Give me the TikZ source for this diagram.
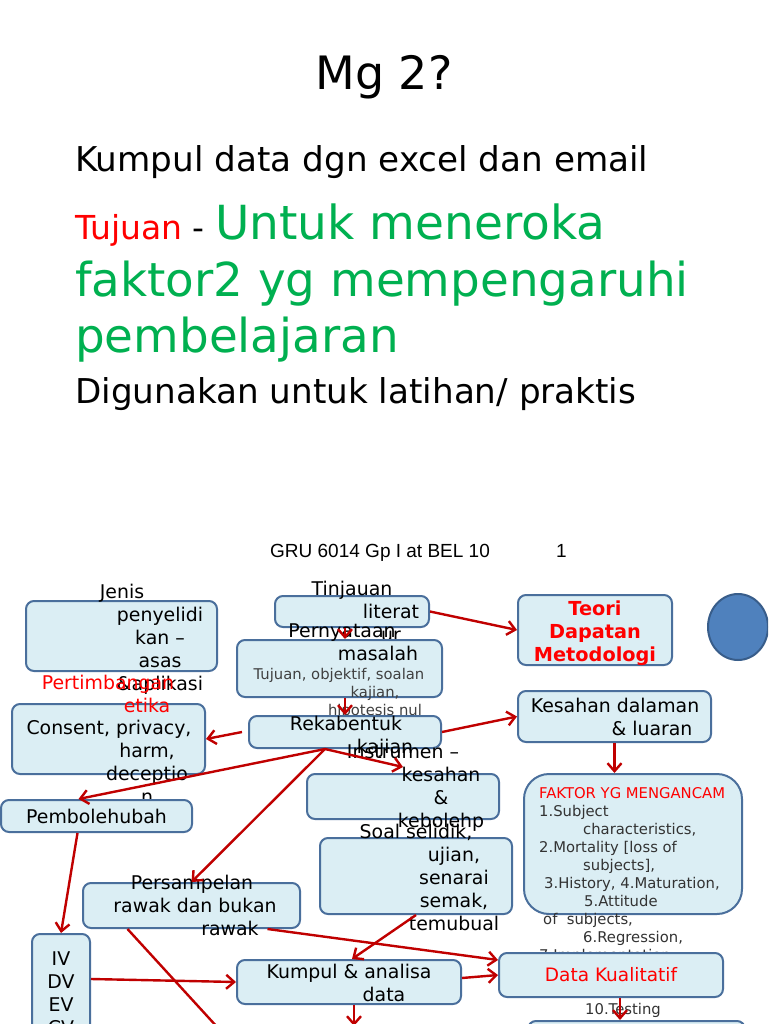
\documentclass[tikz,border=0pt]{standalone}
\usepackage{fontspec}
\setmainfont{DejaVu Sans}
\newfontfamily\arialfont{Liberation Sans}
\usetikzlibrary{arrows.meta}

\definecolor{boxfill}{HTML}{DBEEF4}
\definecolor{boxline}{HTML}{4A6F9C}
\definecolor{arrowred}{HTML}{C00000}
\definecolor{aimgreen}{HTML}{00B050}
\definecolor{ovalblue}{HTML}{4F81BD}
\definecolor{ovalline}{HTML}{385D8A}

\newcommand\boxfont{\fontsize{18.9}{23}\selectfont}
\newcommand\smallfont{\fontsize{14.8}{18}\selectfont}

\tikzset{
  box/.style={draw=boxline, fill=boxfill, line width=2pt, rounded corners=8pt, inner sep=0pt},
  wh/.style 2 args={minimum width=#1, minimum height=#2},
  txt/.style={inner sep=0pt, align=center, font=\boxfont, anchor=north},
  conn/.style={draw=arrowred, line width=2.4pt, ->},
}

\begin{document}
\begin{tikzpicture}[x=1pt, y=-1pt, >={Straight Barb[length=8pt,width=14pt]}]
\useasboundingbox (0,0) rectangle (768,1024);
\fill[white] (0,0) rectangle (768,1024);
\clip (0,0) rectangle (768,1024);

% heading
\node[inner sep=0pt, anchor=base, font=\fontsize{46}{55}\selectfont] (title) at (384,90) {Mg 2?};
\node[inner sep=0pt, anchor=base west, font=\fontsize{34.2}{40}\selectfont] (kumpuldata) at (75,172) {Kumpul data dgn excel dan email};
\node[inner sep=0pt, anchor=base west] (tujuan) at (75,240)
  {\fontsize{33}{38}\selectfont\textcolor{red}{Tujuan} - \textcolor{aimgreen}{\fontsize{47}{56}\selectfont Untuk meneroka}};
\node[inner sep=0pt, anchor=base west, text=aimgreen, font=\fontsize{46.8}{56}\selectfont] (faktordua) at (75,296) {faktor2 yg mempengaruhi};
\node[inner sep=0pt, anchor=base west, text=aimgreen, font=\fontsize{46.8}{56}\selectfont] (pembelajaran) at (75,352) {pembelajaran};
\node[inner sep=0pt, anchor=base west, font=\fontsize{34.2}{40}\selectfont] (digunakan) at (75,403) {Digunakan untuk latihan/ praktis};
\node[inner sep=0pt, anchor=base west, font=\arialfont\fontsize{19}{23}\selectfont] (gru) at (270,557) {GRU 6014 Gp I at BEL 10};
\node[inner sep=0pt, anchor=base west, font=\arialfont\fontsize{19}{23}\selectfont] (pagenum) at (556,557) {1};

% boxes, back to front
\node[box, wh={191}{70}] (jenis) at (121.5,636) {};
\node[txt] (jenis-t) at (160,581.9) {\strut\hspace*{-76pt}Jenis\\penyelidi\\kan –\\asas\\\&aplikasi};

\node[box, wh={154}{31}] (tinj) at (352,611.5) {};
\node[txt] (tinj-t) at (391,578.9) {\strut\hspace*{-78pt}Tinjauan\\literat\\ur};

\node[box, wh={205}{57}] (pern) at (339.5,668.5) {};
\node[txt] (pern-t) at (378,620.9) {\strut\hspace*{-72pt}Pernyataan\\masalah};
\node[txt, font=\smallfont, text=black!75] (pern-s) at (375,666.4) {\strut\hspace*{-72pt}Tujuan, objektif, soalan\\kajian,\\hipotesis nul};

\node[box, wh={154}{70}] (teori) at (595,630) {};
\node[txt, font=\fontsize{19.3}{23}\selectfont\bfseries, text=red] (teori-t) at (595,598.9) {\strut Teori\\Dapatan\\Metodologi};

\draw[fill=ovalblue, draw=ovalline, line width=2pt] (738,627) ellipse [x radius=30, y radius=33];

\node[box, wh={193}{51}] (kesahan) at (614.5,716.5) {};
\node[txt] (kesahan-t) at (652,695.9) {\strut\hspace*{-74pt}Kesahan dalaman\\\& luaran};

\node[box, wh={193}{70}] (consent) at (108.5,739) {};
\node[txt] (consent-t) at (147,717.9) {\strut\hspace*{-76pt}Consent, privacy,\\harm,\\deceptio\\n};
\node[txt, text=red] (pertim-t) at (147,672.9) {\strut\hspace*{-78pt}Pertimbangan\\etika};

\node[box, wh={192}{32}] (rekab) at (345,732) {};
\node[txt] (rekab-t) at (385,713.9) {\strut\hspace*{-78pt}Rekabentuk\\kajian};

\node[box, wh={192}{45}] (instr) at (403,796.5) {};
\node[txt] (instr-t) at (441,741.9) {\strut\hspace*{-76pt}Instrumen –\\kesahan\\\&\\kebolehp};

\node[box, wh={191}{32}, font=\boxfont] (pemb) at (96.5,816) {Pembolehubah};

\node[box, wh={192}{76}] (soal) at (416,876) {};
\node[txt] (soal-t) at (454,821.9) {\strut\hspace*{-76pt}Soal selidik,\\ujian,\\senarai\\semak,\\temubual};

\node[box, wh={218}{140}, rounded corners=25pt] (faktor) at (633,844) {};
\node[inner sep=0pt, anchor=north west, align=left, font=\smallfont, text=black!80] (faktor-t) at (539,785.4)
  {\strut\textcolor{red}{FAKTOR YG MENGANCAM}\\
   1.Subject\\
   \hspace*{44pt}characteristics,\\
   2.Mortality [loss of\\
   \hspace*{44pt}subjects],\\
   \hspace*{5pt}3.History, 4.Maturation,\\
   \hspace*{45pt}5.Attitude\\
   \hspace*{4pt}of\ \ subjects,\\
   \hspace*{44pt}6.Regression,\\
   7.Implementation,\\[36pt]
   \hspace*{46pt}10.Testing};

\node[box, wh={224}{44}, text=red, font=\fontsize{18.5}{22}\selectfont] (dataK) at (611,975) {Data Kualitatif};

\node[box, wh={217}{45}] (persamp) at (191.5,905.5) {};
\node[txt] (persamp-t) at (195,872.9) {\strut\hspace*{-6pt}Persampelan\\rawak dan bukan\\\hspace*{70pt}rawak};

\node[box, wh={58}{112}] (ivbox) at (61,990) {};
\node[txt] (iv-t) at (61,948.9) {\strut IV\\DV\\EV\\CV};

\node[box, wh={224}{44}] (kumpul) at (349,982) {};
\node[txt] (kumpul-t) at (384,961.9) {\strut\hspace*{-70pt}Kumpul \& analisa\\data};

\node[box, wh={217}{48}] (nextbox) at (636.5,1045) {};

% connectors
\coordinate (persamp-out) at (251,1064);
\coordinate (kumpul-out) at (354,1026);
\draw[conn] (tinj.east) -- (teori.west);
\draw[conn] (tinj.south -| rekab.north) -- (pern.north -| rekab.north);
\draw[conn] (pern.south -| rekab.north) -- (rekab.north);
\draw[conn] (rekab.east) -- (kesahan.west);
\draw[conn] ([xshift=-6pt]rekab.west) -- (consent.east);
\draw[conn] ([xshift=-20pt]rekab.south) -- ([xshift=-18pt]pemb.north);
\draw[conn] ([xshift=-20pt]rekab.south) -- ([yshift=6pt]instr.north);
\draw[conn] ([xshift=-20pt]rekab.south) -- (persamp.north);
\draw[conn] (kesahan.south) -- (kesahan.south |- faktor.north);
\draw[conn] ([xshift=-19pt]pemb.south) -- (ivbox.north);
\draw[conn] ([yshift=11pt]ivbox.east) -- (kumpul.west);
\draw[conn] ([xshift=-64pt]persamp.south) -- (persamp-out);
\draw[conn] ([xshift=76pt]persamp.south) -- ([yshift=15pt]dataK.west);
\draw[conn] (soal.south) -- ([xshift=3pt]kumpul.north);
\draw[conn] ([yshift=4pt]kumpul.east) -- (dataK.west);
\draw[conn] ([xshift=5pt]kumpul.south) -- (kumpul-out);
\draw[conn] ([xshift=9pt]dataK.south) -- ([xshift=9pt]dataK.south |- nextbox.north);
\end{tikzpicture}
\end{document}
